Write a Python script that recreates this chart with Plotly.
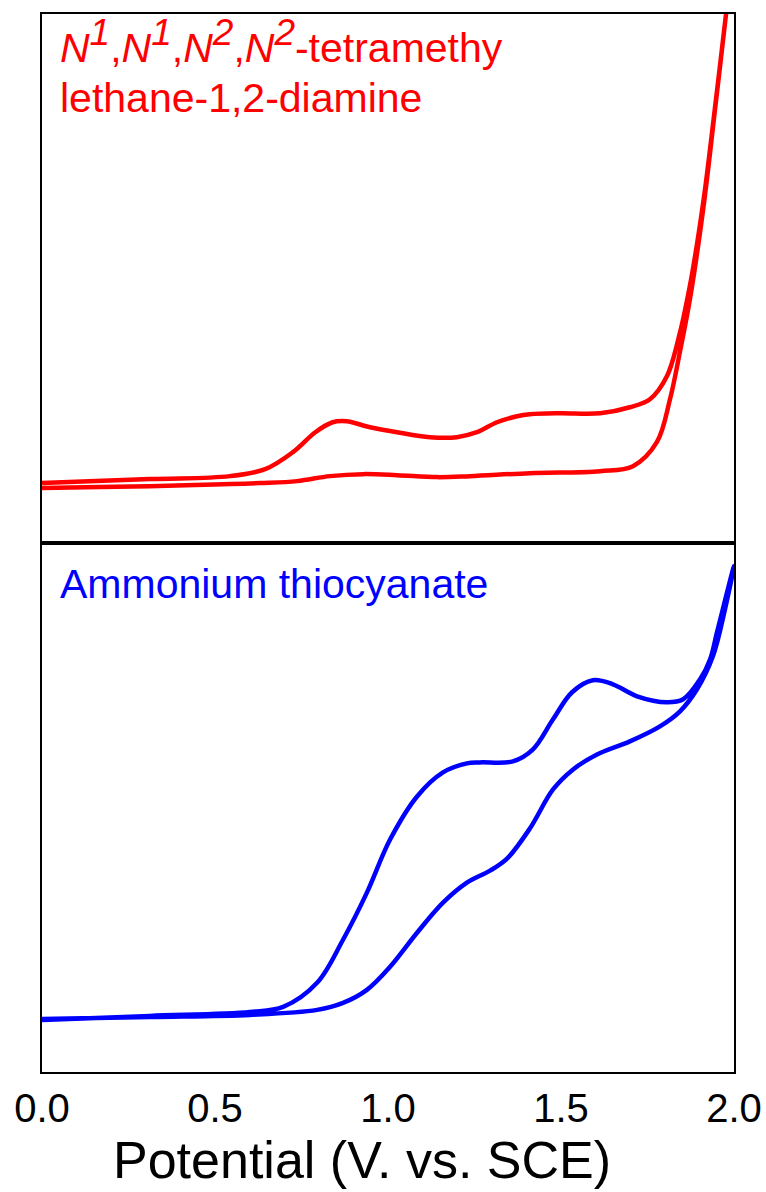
import plotly.graph_objects as go
from plotly.subplots import make_subplots

# Potential (V vs. SCE) and current (arbitrary units)
# N1,N1,N2,N2-tetramethylethane-1,2-diamine: forward (anodic) scan
red_fwd_E = [0.000, 0.168, 0.442, 0.630, 0.737, 0.832, 0.928, 1.026, 1.142, 1.237,
             1.410, 1.613, 1.708, 1.777, 1.815, 1.844, 1.873, 1.913, 1.945, 1.977, 1.991]
red_fwd_I = [55, 56, 58, 60, 62, 67, 69, 68, 66, 67,
             70, 72, 77, 101, 144, 192, 245, 340, 434, 530, 574]
# reverse scan
red_rev_E = [1.991, 1.977, 1.945, 1.913, 1.880, 1.860, 1.844, 1.806, 1.757, 1.699,
             1.613, 1.497, 1.410, 1.373, 1.315, 1.257, 1.199, 1.121, 1.026, 0.948,
             0.880, 0.840, 0.790, 0.725, 0.645, 0.543, 0.312, 0.000]
red_rev_I = [574, 530, 436, 346, 272, 236, 211, 167, 144, 136,
             130, 130, 129, 127, 121, 111, 106, 106, 111, 116,
             122, 121, 111, 91, 74, 67, 64, 60]

# Ammonium thiocyanate: forward scan
blue_fwd_E = [0.000, 0.312, 0.601, 0.795, 0.870, 0.939, 1.006, 1.084, 1.159, 1.228,
              1.295, 1.344, 1.410, 1.477, 1.535, 1.604, 1.699, 1.786, 1.844, 1.893,
              1.939, 1.974, 2.000]
blue_fwd_I = [53, 55, 57, 62, 69, 82, 105, 139, 169, 189,
              201, 213, 243, 282, 302, 317, 330, 345, 360, 382,
              415, 462, 505]
# reverse scan
blue_rev_E = [2.000, 1.951, 1.931, 1.902, 1.853, 1.806, 1.720, 1.650, 1.592, 1.532,
              1.477, 1.419, 1.361, 1.266, 1.228, 1.159, 1.084, 1.006,
              0.939, 0.870, 0.795, 0.697, 0.601, 0.312, 0.000]
blue_rev_I = [505, 439, 412, 392, 372, 369, 375, 387, 391, 379,
              352, 322, 310, 309, 308, 299, 275, 232,
              179, 132, 89, 65, 60, 56, 52]

x_ticks = [0.0, 0.5, 1.0, 1.5, 2.0]
x_tick_labels = ["0.0", "0.5", "1.0", "1.5", "2.0"]

FONT = "Arial, Liberation Sans, sans-serif"

fig = make_subplots(rows=2, cols=1, shared_xaxes=True, vertical_spacing=0)

fig.add_trace(go.Scatter(x=red_fwd_E + red_rev_E[1:], y=red_fwd_I + red_rev_I[1:],
                         mode="lines", line=dict(color="#ff0000", width=4.5, shape="spline", smoothing=1.0),
                         showlegend=False, hoverinfo="skip"), row=1, col=1)
fig.add_trace(go.Scatter(x=blue_fwd_E + blue_rev_E[1:], y=blue_fwd_I + blue_rev_I[1:],
                         mode="lines", line=dict(color="#0000ff", width=4.5, shape="spline", smoothing=1.0),
                         showlegend=False, hoverinfo="skip"), row=2, col=1)

axis_common = dict(showline=True, mirror=True, linecolor="black", linewidth=2,
                   showgrid=False, zeroline=False, ticks="", automargin=False)
fig.update_xaxes(range=[0, 2.0], **axis_common)
fig.update_xaxes(showticklabels=False, row=1, col=1)
fig.update_xaxes(tickvals=x_ticks, ticktext=x_tick_labels,
                 tickfont=dict(family=FONT, size=40, color="black"),
                 row=2, col=1)
fig.update_yaxes(showticklabels=False, **axis_common)
fig.update_yaxes(range=[0, 530], row=1, col=1)
fig.update_yaxes(range=[0, 528], row=2, col=1)

sup = lambda d: "<sup><span style='font-size:37px'>" + d + "</span></sup>"
label_top_1 = ("<i>N" + sup("1") + "</i>,<i>N" + sup("1") + "</i>,<i>N" + sup("2") + "</i>,<i>N"
               + sup("2") + "</i>-tetramethy")
label_top_2 = "lethane-1,2-diamine"

fig.add_annotation(xref="x domain", yref="y domain", x=0.023, y=0.8885,
                   xanchor="left", yanchor="bottom", align="left", showarrow=False,
                   text=label_top_1,
                   font=dict(family=FONT, size=41, color="#ff0000"))
fig.add_annotation(xref="x domain", yref="y domain", x=0.023, y=0.794,
                   xanchor="left", yanchor="bottom", align="left", showarrow=False,
                   text=label_top_2,
                   font=dict(family=FONT, size=41, color="#ff0000"))
fig.add_annotation(xref="x2 domain", yref="y2 domain", x=0.023, y=0.970,
                   xanchor="left", yanchor="top", align="left", showarrow=False,
                   text="Ammonium thiocyanate",
                   font=dict(family=FONT, size=41, color="#0000ff"))
fig.add_annotation(xref="paper", yref="paper", x=0.462, y=-0.083,
                   xanchor="center", yanchor="middle", showarrow=False,
                   text="Potential (V. vs. SCE)",
                   font=dict(family=FONT, size=52, color="black"))

fig.update_layout(width=766, height=1192, margin=dict(l=42, r=32, t=14, b=120),
                  plot_bgcolor="white", paper_bgcolor="white", hovermode=False)

fig.write_html("out.html", config={"displayModeBar": False},
               post_script="document.body.style.margin='0px';")
